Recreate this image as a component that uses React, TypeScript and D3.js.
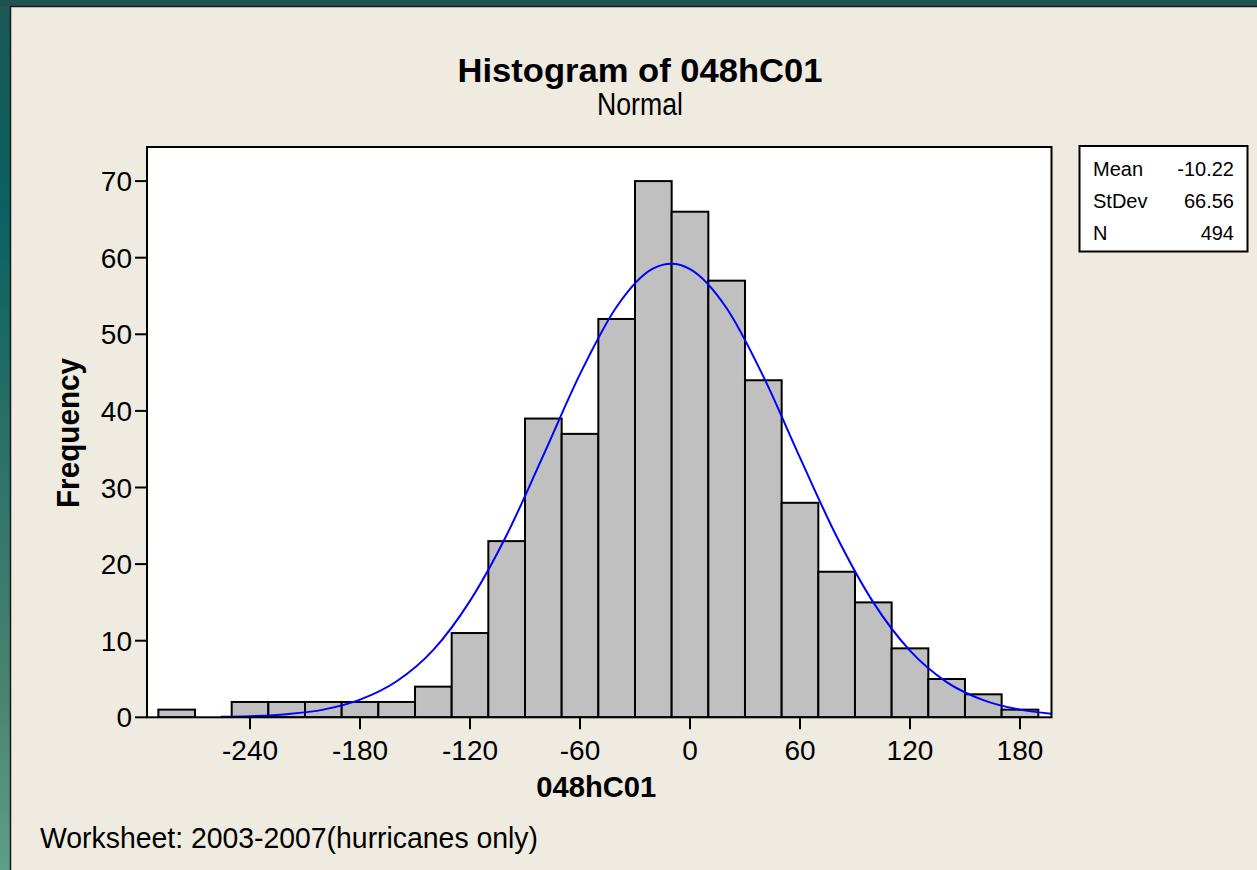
import React from 'react';
import { scaleLinear, line, curveMonotoneX } from 'd3';

// histogram bins (midpoints, width 20) and counts
const BIN_MIDPOINTS = [-280, -260, -240, -220, -200, -180, -160, -140, -120, -100, -80, -60, -40, -20, 0, 20, 40, 60, 80, 100, 120, 140, 160, 180];
const FREQUENCIES = [1, 0, 2, 2, 2, 2, 2, 4, 11, 23, 39, 37, 52, 70, 66, 57, 44, 28, 19, 15, 9, 5, 3, 1];
const BIN_WIDTH = 20;

// fitted normal curve
const CURVE_X = [-256, -240, -220, -200, -180, -160, -140, -120, -100, -80, -60, -40, -20, -10, 0, 20, 40, 60, 80, 100, 120, 140, 160, 180, 197];
const CURVE_Y = [0.06, 0.15, 0.41, 1.0, 2.3, 4.7, 8.8, 15.2, 23.8, 34.2, 44.8, 53.6, 58.6, 59.2, 58.5, 53.4, 44.5, 33.9, 23.6, 15.0, 8.7, 4.6, 2.25, 1.0, 0.47];

const X_TICKS = [-240, -180, -120, -60, 0, 60, 120, 180];
const Y_TICKS = [0, 10, 20, 30, 40, 50, 60, 70];

const STAT_NAMES = ['Mean', 'StDev', 'N'];
const STAT_VALUES = ['-10.22', '66.56', '494'];

const TITLE = 'Histogram of 048hC01';
const SUBTITLE = 'Normal';
const X_LABEL = '048hC01';
const Y_LABEL = 'Frequency';
const FOOTER = 'Worksheet: 2003-2007(hurricanes only)';

const W = 1257;
const H = 870;
const PLOT = { left: 147, top: 147, right: 1051.5, bottom: 717.3 };
const FONT = '"Liberation Sans", Arial, sans-serif';
const PANEL = '#efebe1';

export default function App() {
  const x = scaleLinear().domain([-296.2, 197.2]).range([PLOT.left, PLOT.right]);
  const y = scaleLinear().domain([0, 74.45]).range([PLOT.bottom, PLOT.top]);

  const curvePath = line<number>()
    .x((d) => x(d))
    .y((_, i) => y(CURVE_Y[i]))
    .curve(curveMonotoneX)(CURVE_X);

  const plotCx = (PLOT.left + PLOT.right) / 2;

  return (
    <div style={{ position: 'fixed', left: 0, top: 0 }}>
      <svg width={W} height={H} style={{ display: 'block' }} fontFamily={FONT}>
        <defs>
          <linearGradient id="slide" x1="0" y1="0" x2="0" y2="1">
            <stop offset="0" stopColor="#1d5858" />
            <stop offset="0.25" stopColor="#0a6262" />
            <stop offset="0.5" stopColor="#2a7068" />
            <stop offset="0.8" stopColor="#4a8470" />
            <stop offset="1" stopColor="#5e9e88" />
          </linearGradient>
          <clipPath id="plotClip">
            <rect x={PLOT.left} y={PLOT.top} width={PLOT.right - PLOT.left} height={PLOT.bottom - PLOT.top} />
          </clipPath>
        </defs>

        {/* slide background + panel */}
        <rect x={0} y={0} width={W} height={H} fill="url(#slide)" />
        <rect x={0} y={0} width={W} height={7} fill="#1f5252" />
        <rect x={10.5} y={6.5} width={W} height={H} fill={PANEL} stroke="#1a1a1a" strokeWidth={1.5} />

        {/* titles */}
        <text x={640} y={82} textAnchor="middle" fontSize={34} fontWeight="bold" textLength={365} lengthAdjust="spacingAndGlyphs">
          {TITLE}
        </text>
        <text x={640} y={115} textAnchor="middle" fontSize={31} textLength={86} lengthAdjust="spacingAndGlyphs">
          {SUBTITLE}
        </text>

        {/* plot area */}
        <rect x={PLOT.left} y={PLOT.top} width={PLOT.right - PLOT.left} height={PLOT.bottom - PLOT.top} fill="#ffffff" />

        <g clipPath="url(#plotClip)">
          {BIN_MIDPOINTS.map((m, i) => (
            <rect
              key={m}
              x={x(m - BIN_WIDTH / 2)}
              y={y(FREQUENCIES[i])}
              width={x(m + BIN_WIDTH / 2) - x(m - BIN_WIDTH / 2)}
              height={y(0) - y(FREQUENCIES[i])}
              fill="#c0c0c0"
              stroke="#000"
              strokeWidth={2}
            />
          ))}
          <path d={curvePath ?? ''} fill="none" stroke="#0000ff" strokeWidth={2} />
        </g>

        <rect x={PLOT.left} y={PLOT.top} width={PLOT.right - PLOT.left} height={PLOT.bottom - PLOT.top} fill="none" stroke="#000" strokeWidth={2} />

        {/* y axis */}
        {Y_TICKS.map((t) => (
          <g key={t}>
            <line x1={PLOT.left - 12} x2={PLOT.left} y1={y(t)} y2={y(t)} stroke="#000" strokeWidth={2} />
            <text x={132} y={y(t)} dy="0.36em" textAnchor="end" fontSize={28}>
              {String(t)}
            </text>
          </g>
        ))}

        {/* x axis */}
        {X_TICKS.map((t) => (
          <g key={t}>
            <line x1={x(t)} x2={x(t)} y1={PLOT.bottom} y2={PLOT.bottom + 12} stroke="#000" strokeWidth={2} />
            <text x={x(t)} y={760} textAnchor="middle" fontSize={28}>
              {String(t)}
            </text>
          </g>
        ))}

        <text x={plotCx - 3} y={797} textAnchor="middle" fontSize={30} fontWeight="bold" textLength={120} lengthAdjust="spacingAndGlyphs">
          {X_LABEL}
        </text>
        <text
          transform={`translate(79, 433) rotate(-90)`}
          textAnchor="middle"
          fontSize={31}
          fontWeight="bold"
          textLength={150}
          lengthAdjust="spacingAndGlyphs"
        >
          {Y_LABEL}
        </text>

        {/* stats box */}
        <rect x={1079.5} y={146} width={168} height={105.5} fill="#ffffff" stroke="#000" strokeWidth={2} />
        {STAT_NAMES.map((n, i) => (
          <g key={n}>
            <text x={1093} y={176 + i * 32} fontSize={20}>
              {n}
            </text>
            <text x={1234} y={176 + i * 32} fontSize={20} textAnchor="end">
              {STAT_VALUES[i]}
            </text>
          </g>
        ))}

        {/* footer */}
        <text x={40} y={848} fontSize={30} textLength={498} lengthAdjust="spacingAndGlyphs">
          {FOOTER}
        </text>
      </svg>
    </div>
  );
}
